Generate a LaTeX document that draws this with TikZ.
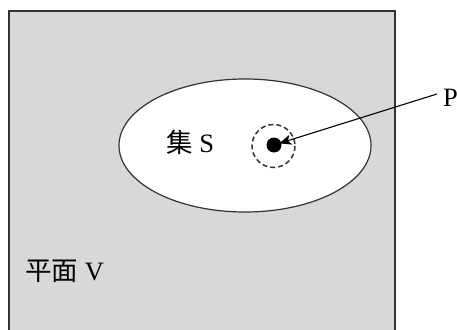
\documentclass[tikz,border=0pt]{standalone}
\usepackage{fontspec}
\setmainfont{Liberation Serif}
\newfontfamily\cjk{Noto Sans CJK SC}
\usetikzlibrary{arrows.meta}
\definecolor{planegray}{RGB}{216,216,216}
\definecolor{edgegray}{RGB}{50,50,50}
\tikzset{
  plane/.style={fill=planegray, draw=edgegray, line width=1.5pt},
  setS/.style={fill=white, draw=edgegray, line width=1.2pt},
  nbhd/.style={draw=edgegray, dashed, dash pattern=on 5pt off 3pt, line width=1.5pt},
  ptdot/.style={circle, fill=black, inner sep=0pt, minimum size=15pt},
  lbl/.style={inner sep=0pt, font=\fontsize{26.5}{28}\selectfont},
  pointer/.style={draw=black, line width=1.1pt, -{Stealth[length=12pt,width=10pt,inset=3pt]}, shorten >=5.5pt}
}
\begin{document}
\begin{tikzpicture}[x=1pt,y=-1pt]
\useasboundingbox (0,0) rectangle (457,329);
% plane V (extends beyond bottom)
\draw[plane] (9,345) -- (9,11) -- (395,11) -- (395,345);
% set S
\draw[setS] (245,145.5) ellipse [x radius=126, y radius=66.5];
% neighbourhood
\draw[nbhd] (273.5,146) circle [radius=21.5];
\node[ptdot] (dot) at (274,145) {};
% labels
\node[lbl, anchor=base west] (S) at (166,152) {{\cjk 集} S};
\node[lbl, anchor=base west] (V) at (25,280) {{\cjk 平面} V};
\node[lbl, anchor=base west] (P) at (443,106) {P};
\coordinate (Pstart) at (437,94);
\draw[pointer] (Pstart) -- (dot.center);
\end{tikzpicture}
\end{document}
